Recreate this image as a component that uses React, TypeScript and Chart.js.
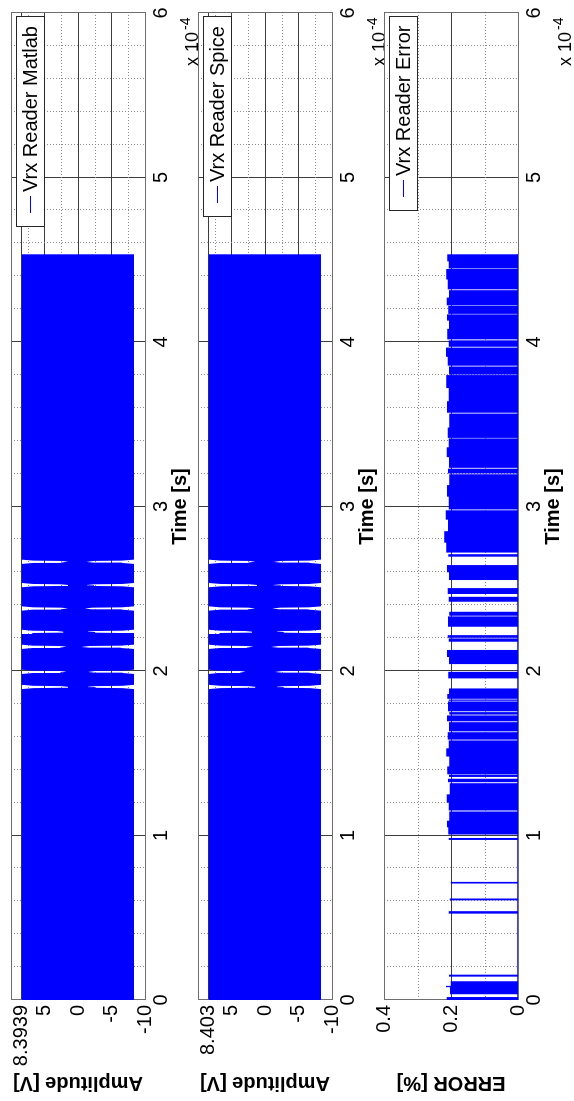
import React, { useEffect, useRef } from 'react';
import { Chart, registerables } from 'chart.js';

Chart.register(...registerables);

const FONT = '"Liberation Sans", Arial, Helvetica, sans-serif';
const BLUE = '#0000ff';
const MAJOR_GRID = '#3c3c3c';
const MINOR_GRID = '#8c8c8c';
const BOX = '#6e6e6e';

// ---- time axis (values in units of 1e-4 s) ----
const timeTicks = [0, 1, 2, 3, 4, 5, 6];
const timeTickLabels = ['0', '1', '2', '3', '4', '5', '6'];
const timeMinorTicks = [0.2, 0.4, 0.6, 0.8, 1.2, 1.4, 1.6, 1.8, 2.2, 2.4, 2.6, 2.8, 3.2, 3.4, 3.6, 3.8, 4.2, 4.4, 4.6, 4.8, 5.2, 5.4, 5.6, 5.8];
const timeExponent = '-4';

// ---- amplitude axes ----
const ampTicksMatlab = [-10, -5, 0, 5, 8.3939];
const ampTickLabelsMatlab = ['-10', '-5', '0', '5', '8.3939'];
const ampTicksSpice = [-10, -5, 0, 5, 8.403];
const ampTickLabelsSpice = ['-10', '-5', '0', '5', '8.403'];
const ampMinorTicks = [-7.5, -2.5, 2.5, 7.5];

// ---- error axis ----
const errTicks = [0, 0.2, 0.4];
const errTickLabels = ['0', '0.2', '0.4'];
const errMinorTicks = [0.1, 0.3];

// ---- burst signal envelopes ----
const burstStart = 0;
const burstEnd = 4.534;
const notchTimes = [1.903, 1.995, 2.147, 2.238, 2.38, 2.522, 2.664];
const matlabMax = 8.3939;
const matlabMin = -8.35;
const matlabNotchUpper = [1.5, 1.7, 1.7, 2.2, 1.5, 1.5, 1.5];
const matlabNotchLower = [-1.5, -1.5, -0.5, -1.5, -1.0, -1.35, -1.25];
const spiceMax = 8.403;
const spiceMin = -8.36;
const spiceNotchUpper = [1.45, 2.9, 1.7, 1.95, 1.45, 1.2, 1.45];
const spiceNotchLower = [-1.8, -1.5, -0.9, -1.8, -1.1, -1.3, -1.3];
// notch profile: time offsets around each notch, and fraction from notch depth (0) to full amplitude (1)
const notchProfileDt = [-0.013, -0.007, -0.005, -0.001, 0.001, 0.005, 0.007, 0.013];
const notchProfileLevel = [1, 0.75, 0.15, 0, 0, 0.15, 0.75, 1];

// ---- error envelope: [start time, value held until next step] ----
const errorSteps: [number, number][] = [
  [0, 0.213], [0.018, 0], [0.035, 0.203], [0.078, 0.215], [0.086, 0.201], [0.114, 0],
  [0.142, 0.206], [0.154, 0], [0.525, 0.207], [0.54, 0], [0.606, 0.204], [0.617, 0],
  [0.708, 0.201], [0.718, 0], [0.973, 0.207], [0.985, 0],
  [1.006, 0.208], [1.05, 0.212], [1.09, 0.205], [1.146, 0], [1.152, 0.207], [1.2, 0.213],
  [1.25, 0.204], [1.318, 0], [1.324, 0.209], [1.345, 0], [1.356, 0.206], [1.369, 0],
  [1.372, 0.211], [1.42, 0.205], [1.48, 0.214], [1.53, 0.207], [1.578, 0], [1.583, 0.21],
  [1.628, 0], [1.633, 0.206], [1.689, 0], [1.694, 0.212], [1.73, 0], [1.735, 0.205],
  [1.75, 0], [1.755, 0.209], [1.815, 0], [1.819, 0.207], [1.827, 0], [1.831, 0.211],
  [1.86, 0.206], [1.894, 0], [1.955, 0.208], [1.995, 0], [2.042, 0.206], [2.085, 0.212],
  [2.128, 0], [2.178, 0.207], [2.198, 0], [2.202, 0.21], [2.218, 0], [2.269, 0.209],
  [2.332, 0], [2.336, 0.205], [2.36, 0], [2.421, 0.207], [2.451, 0], [2.468, 0.21],
  [2.504, 0], [2.553, 0.206], [2.6, 0.212], [2.644, 0], [2.695, 0.208], [2.71, 0],
  [2.72, 0.214], [2.78, 0.22], [2.85, 0.209], [2.92, 0.216], [2.977, 0], [2.982, 0.207],
  [3.06, 0.212], [3.13, 0.205], [3.196, 0], [3.201, 0.209], [3.23, 0], [3.235, 0.206],
  [3.3, 0.213], [3.36, 0.207], [3.414, 0], [3.417, 0.21], [3.48, 0.205], [3.565, 0],
  [3.57, 0.212], [3.64, 0.207], [3.72, 0.214], [3.799, 0], [3.802, 0.206], [3.851, 0],
  [3.856, 0.21], [3.91, 0.215], [3.966, 0], [3.971, 0.207], [4.01, 0], [4.016, 0.211],
  [4.08, 0.206], [4.13, 0.212], [4.168, 0], [4.171, 0.208], [4.22, 0], [4.223, 0.213],
  [4.27, 0.206], [4.315, 0], [4.32, 0.21], [4.38, 0.214], [4.444, 0], [4.447, 0.207],
  [4.49, 0.211], [4.534, 0],
];

function buildEnvelope(max: number, min: number, upperDepth: number[], lowerDepth: number[]) {
  const upper = [{ x: burstStart, y: max }];
  const lower = [{ x: burstStart, y: min }];
  notchTimes.forEach((tn, i) => {
    notchProfileDt.forEach((dt, k) => {
      const lv = notchProfileLevel[k];
      upper.push({ x: tn + dt, y: upperDepth[i] + lv * (max - upperDepth[i]) });
      lower.push({ x: tn + dt, y: lowerDepth[i] + lv * (min - lowerDepth[i]) });
    });
  });
  upper.push({ x: burstEnd, y: max });
  lower.push({ x: burstEnd, y: min });
  return { upper, lower };
}

function decorPlugin(cfg: { yMinor: number[]; legend: string }) {
  return {
    id: 'matlabDecor',
    beforeDatasetsDraw(chart: any) {
      const { ctx, chartArea: a, scales } = chart;
      const L = Math.round(a.left), R = Math.round(a.right), T = Math.round(a.top), B = Math.round(a.bottom);
      ctx.save();
      ctx.strokeStyle = MINOR_GRID;
      ctx.lineWidth = 1;
      ctx.setLineDash([1, 2]);
      for (const v of timeMinorTicks) {
        const px = Math.round(scales.x.getPixelForValue(v)) + 0.5;
        ctx.beginPath(); ctx.moveTo(px, T); ctx.lineTo(px, B); ctx.stroke();
      }
      for (const v of cfg.yMinor) {
        const py = Math.round(scales.y.getPixelForValue(v)) + 0.5;
        ctx.beginPath(); ctx.moveTo(L, py); ctx.lineTo(R, py); ctx.stroke();
      }
      ctx.setLineDash([]);
      ctx.strokeStyle = BOX;
      ctx.strokeRect(L + 0.5, T + 0.5, R - L, B - T);
      ctx.restore();
    },
    afterDatasetsDraw(chart: any) {
      const { ctx, chartArea: a } = chart;
      const R = Math.round(a.right), T = Math.round(a.top), B = Math.round(a.bottom);
      ctx.save();
      // legend
      ctx.font = `20px ${FONT}`;
      const tw = ctx.measureText(cfg.legend).width;
      const w = Math.round(tw + 44);
      const h = 28;
      const bx = R - 4 - w;
      const by = T + 5;
      ctx.fillStyle = '#ffffff';
      ctx.fillRect(bx, by, w, h);
      ctx.strokeStyle = '#262626';
      ctx.lineWidth = 1;
      ctx.strokeRect(bx + 0.5, by + 0.5, w, h);
      ctx.strokeStyle = BLUE;
      ctx.beginPath();
      ctx.moveTo(bx + 14, by + 14.5);
      ctx.lineTo(bx + 31, by + 14.5);
      ctx.stroke();
      ctx.fillStyle = '#000000';
      ctx.textAlign = 'left';
      ctx.textBaseline = 'middle';
      ctx.fillText(cfg.legend, bx + 35, by + h / 2 + 1);
      // exponent label
      ctx.textBaseline = 'alphabetic';
      ctx.textAlign = 'right';
      ctx.font = `18px ${FONT}`;
      ctx.fillText('x 10', R - 19, B + 53);
      ctx.textAlign = 'left';
      ctx.font = `14px ${FONT}`;
      ctx.fillText(timeExponent, R - 17, B + 45);
      ctx.restore();
    },
  };
}

function makeChart(
  canvas: HTMLCanvasElement,
  p: {
    datasets: any[];
    yMin: number; yMax: number;
    yTicks: number[]; yTickLabels: string[]; yMinor: number[];
    yTitle: string; legend: string;
  }
) {
  return new Chart(canvas, {
    type: 'line',
    data: { datasets: p.datasets },
    options: {
      animation: false,
      responsive: false,
      maintainAspectRatio: false,
      events: [],
      layout: { padding: { top: 11, left: 0, right: 13, bottom: 0 } },
      elements: { point: { radius: 0 }, line: { tension: 0 } },
      plugins: { legend: { display: false }, tooltip: { enabled: false } },
      scales: {
        x: {
          type: 'linear',
          min: 0,
          max: 6,
          afterBuildTicks: (s: any) => { s.ticks = timeTicks.map((v) => ({ value: v })); },
          afterFit: (s: any) => { s.height = 85; s.paddingLeft = 0; s.paddingRight = 0; },
          ticks: {
            autoSkip: false, maxRotation: 0, minRotation: 0, padding: 4, color: '#000',
            font: { size: 20, family: FONT },
            callback: (_v: any, i: number) => timeTickLabels[i],
          },
          grid: {
            drawTicks: false,
            lineWidth: 1,
            color: (c: any) => (c.tick && (c.tick.value === 0 || c.tick.value === 6) ? 'rgba(0,0,0,0)' : MAJOR_GRID),
          },
          border: { display: false },
          title: {
            display: true, text: 'Time [s]', color: '#000',
            font: { size: 20, weight: 'bold', family: FONT },
            padding: { top: 0, bottom: 37.6 },
          },
        },
        y: {
          type: 'linear',
          min: p.yMin,
          max: p.yMax,
          afterBuildTicks: (s: any) => { s.ticks = p.yTicks.map((v) => ({ value: v })); },
          afterFit: (s: any) => { s.width = 101; s.paddingTop = 0; s.paddingBottom = 0; },
          ticks: {
            autoSkip: false, padding: 5, color: '#000',
            font: { size: 20, family: FONT },
            callback: (_v: any, i: number) => p.yTickLabels[i],
          },
          grid: {
            drawTicks: false,
            lineWidth: 1,
            color: (c: any) => (c.tick && (c.tick.value === p.yMin || c.tick.value === p.yMax) ? 'rgba(0,0,0,0)' : MAJOR_GRID),
          },
          border: { display: false },
          title: {
            display: true, text: p.yTitle, color: '#000',
            font: { size: 20, weight: 'bold', family: FONT },
            padding: { top: 6.4, bottom: 0 },
          },
        },
      },
    } as any,
    plugins: [decorPlugin({ yMinor: p.yMinor, legend: p.legend }) as any],
  });
}

function envelopeDatasets(env: { upper: any[]; lower: any[] }) {
  return [
    { data: env.upper, borderWidth: 0, borderColor: 'rgba(0,0,0,0)', backgroundColor: BLUE, fill: false, pointRadius: 0 },
    { data: env.lower, borderWidth: 0, borderColor: 'rgba(0,0,0,0)', backgroundColor: BLUE, fill: '-1', pointRadius: 0 },
  ];
}

export default function App() {
  const c1 = useRef<HTMLCanvasElement>(null);
  const c2 = useRef<HTMLCanvasElement>(null);
  const c3 = useRef<HTMLCanvasElement>(null);

  useEffect(() => {
    Chart.defaults.font.family = FONT;
    Chart.defaults.color = '#000';
    const matlabEnv = buildEnvelope(matlabMax, matlabMin, matlabNotchUpper, matlabNotchLower);
    const spiceEnv = buildEnvelope(spiceMax, spiceMin, spiceNotchUpper, spiceNotchLower);
    const charts: Chart[] = [];
    charts.push(makeChart(c1.current!, {
      datasets: envelopeDatasets(matlabEnv),
      yMin: -10, yMax: 10, yTicks: ampTicksMatlab, yTickLabels: ampTickLabelsMatlab, yMinor: ampMinorTicks,
      yTitle: 'Amplitude [V]', legend: 'Vrx Reader Matlab',
    }));
    charts.push(makeChart(c2.current!, {
      datasets: envelopeDatasets(spiceEnv),
      yMin: -10, yMax: 10, yTicks: ampTicksSpice, yTickLabels: ampTickLabelsSpice, yMinor: ampMinorTicks,
      yTitle: 'Amplitude [V]', legend: 'Vrx Reader Spice',
    }));
    charts.push(makeChart(c3.current!, {
      datasets: [
        {
          data: errorSteps.map(([t, v]) => ({ x: t, y: v })),
          stepped: true, borderWidth: 0, borderColor: 'rgba(0,0,0,0)', backgroundColor: BLUE, fill: 'origin', pointRadius: 0,
        },
        {
          data: [{ x: errorSteps[0][0], y: 0 }, { x: errorSteps[errorSteps.length - 1][0], y: 0 }],
          borderWidth: 1.5, borderColor: BLUE, fill: false, pointRadius: 0,
        },
      ],
      yMin: 0, yMax: 0.4, yTicks: errTicks, yTickLabels: errTickLabels, yMinor: errMinorTicks,
      yTitle: 'ERROR [%]', legend: 'Vrx Reader Error',
    }));
    return () => charts.forEach((c) => c.destroy());
  }, []);

  const canvasStyle = (top: number): React.CSSProperties => ({ position: 'absolute', left: 0, top, width: 1101, height: 230 });

  return (
    <div style={{ position: 'fixed', left: 0, top: 0, width: 574, height: 1101, overflow: 'hidden', background: '#fff' }}>
      <div
        style={{
          position: 'absolute', left: 0, top: 0, width: 1101, height: 574, overflow: 'hidden',
          transformOrigin: '0 0', transform: 'translate(0px, 1101px) rotate(-90deg)', background: '#fff',
        }}
      >
        <canvas ref={c1} width={1101} height={230} style={canvasStyle(0)} />
        <canvas ref={c2} width={1101} height={230} style={canvasStyle(187)} />
        <canvas ref={c3} width={1101} height={230} style={canvasStyle(373)} />
      </div>
    </div>
  );
}
